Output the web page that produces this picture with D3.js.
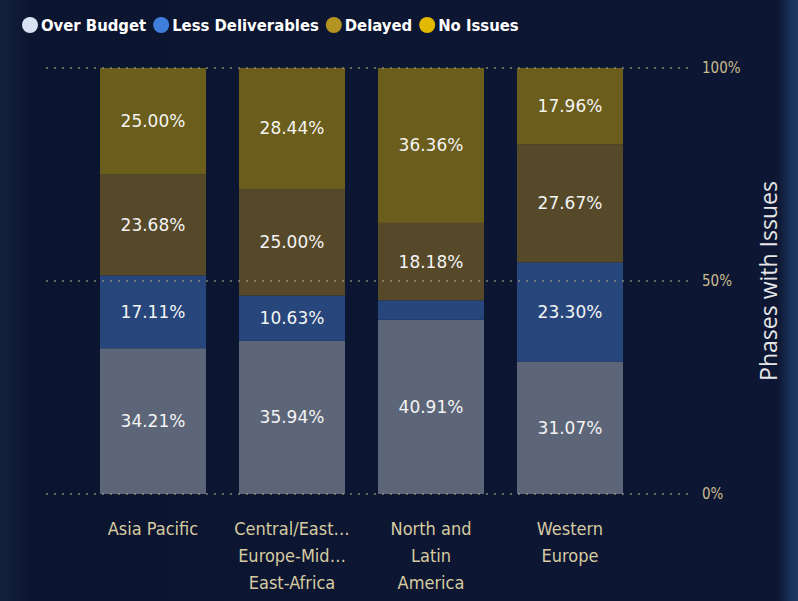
<!DOCTYPE html>
<html>
<head>
<meta charset="utf-8">
<script src="https://cdn.jsdelivr.net/npm/d3@7"></script>
<style>
    html, body { margin: 0; padding: 0; background: #0c1530; overflow: hidden; }
</style>
</head>
<body>
<div id="chart"></div>
<script>
// categories and series (percent of phases per region)
var regions = ["Asia Pacific", "Central/East Europe-Middle East-Africa", "North and Latin America", "Western Europe"];
var regionLines = [["Asia Pacific"], ["Central/East…", "Europe-Mid…", "East-Africa"], ["North and", "Latin", "America"], ["Western", "Europe"]];
var seriesNames = ["Over Budget", "Less Deliverables", "Delayed", "No Issues"];
var overBudget = [34.21, 35.94, 40.91, 31.07];
var lessDeliverables = [17.11, 10.63, 4.55, 23.30];
var delayed = [23.68, 25.00, 18.18, 27.67];
var noIssues = [25.00, 28.44, 36.36, 17.96];
var yTicks = [0, 50, 100];

var width = 798, height = 601;
var legendColor = ["#d8e2f2", "#3f7fdb", "#b39420", "#e3b800"];
var barColor = ["#5d6679", "#27467b", "#56492a", "#6b5d1b"];

var table = regions.map(function (r, i) {
    return {
        region: r,
        "Over Budget": overBudget[i],
        "Less Deliverables": lessDeliverables[i],
        "Delayed": delayed[i],
        "No Issues": noIssues[i]
    };
});

var svg = d3.select("#chart")
    .append("svg")
    .attr("width", width)
    .attr("height", height);

// background
var defs = svg.append("defs");
var bg = defs.append("linearGradient").attr("id", "bg").attr("x1", "0").attr("x2", "1");
bg.append("stop").attr("offset", "0").attr("stop-color", "#13203c");
bg.append("stop").attr("offset", "0.04").attr("stop-color", "#0c1530");
bg.append("stop").attr("offset", "0.975").attr("stop-color", "#0d1733");
bg.append("stop").attr("offset", "0.99").attr("stop-color", "#1a3158");
bg.append("stop").attr("offset", "1").attr("stop-color", "#1f3a63");
svg.append("rect").attr("width", width).attr("height", height).attr("fill", "url(#bg)");

var x = d3.scaleBand()
    .domain(regions)
    .range([83.5, 639.5])
    .paddingInner(0.2374)
    .paddingOuter(0.1187);

var y = d3.scaleLinear()
    .domain([0, 100])
    .range([494, 68]);

var stack = d3.stack().keys(seriesNames);
var layers = stack(table);

var layer = svg.selectAll(".layer")
    .data(layers)
    .enter()
    .append("g")
    .attr("class", "layer")
    .attr("fill", function (d, i) { return barColor[i]; });

layer.selectAll("rect")
    .data(function (d) { return d; })
    .enter()
    .append("rect")
    .attr("x", function (d) { return x(d.data.region); })
    .attr("width", x.bandwidth())
    .attr("y", function (d) { return y(d[1]); })
    .attr("height", function (d) { return y(d[0]) - y(d[1]); });

// gridlines (dotted, on top of the bars)
svg.append("g")
    .selectAll("line")
    .data(yTicks)
    .enter()
    .append("line")
    .attr("x1", 46)
    .attr("x2", 690)
    .attr("y1", function (d) { return y(d); })
    .attr("y2", function (d) { return y(d); })
    .attr("stroke", "#a8a488")
    .attr("stroke-opacity", 0.75)
    .attr("stroke-width", 1.5)
    .attr("stroke-dasharray", "2 6");

// data labels
layer.selectAll("text")
    .data(function (d) { return d; })
    .enter()
    .filter(function (d) { return d[1] - d[0] >= 6; })
    .append("text")
    .attr("x", function (d) { return x(d.data.region) + x.bandwidth() / 2; })
    .attr("y", function (d) { return (y(d[0]) + y(d[1])) / 2; })
    .attr("dy", "0.35em")
    .attr("text-anchor", "middle")
    .attr("font-family", "'DejaVu Sans', sans-serif")
    .attr("font-size", 17)
    .attr("fill", "#f4f4f4")
    .text(function (d) { return (d[1] - d[0]).toFixed(2) + "%"; });

// y axis labels on the right
svg.append("g")
    .selectAll("text")
    .data(yTicks)
    .enter()
    .append("text")
    .attr("x", 702)
    .attr("y", function (d) { return y(d); })
    .attr("dy", "0.35em")
    .attr("font-family", "'DejaVu Sans Condensed', 'DejaVu Sans', sans-serif")
    .attr("font-size", 15)
    .attr("fill", "#c9bc8e")
    .text(function (d) { return d + "%"; });

svg.append("text")
    .attr("transform", "translate(777,281) rotate(-90)")
    .attr("text-anchor", "middle")
    .attr("font-family", "'Open Sans', 'DejaVu Sans', sans-serif")
    .attr("font-size", 23)
    .attr("fill", "#e6e6e6")
    .text("Phases with Issues");

// category labels
var cat = svg.append("g")
    .selectAll("text")
    .data(regions)
    .enter()
    .append("text")
    .attr("text-anchor", "middle")
    .attr("font-family", "'DejaVu Sans Condensed', 'DejaVu Sans', sans-serif")
    .attr("font-size", 18)
    .attr("fill", "#d6cba2");

cat.selectAll("tspan")
    .data(function (d, i) { return regionLines[i]; })
    .enter()
    .append("tspan")
    .attr("x", function () {
        var r = d3.select(this.parentNode).datum();
        return x(r) + x.bandwidth() / 2;
    })
    .attr("y", function (d, j) { return 535 + j * 27; })
    .text(function (d) { return d; });

// legend
var legend = svg.append("g").attr("class", "legend");
var lx = 22;
seriesNames.forEach(function (name, i) {
    legend.append("circle")
        .attr("cx", lx + 8)
        .attr("cy", 25)
        .attr("r", 8)
        .attr("fill", legendColor[i]);
    var t = legend.append("text")
        .attr("x", lx + 19)
        .attr("y", 25)
        .attr("dy", "0.35em")
        .attr("font-family", "'DejaVu Sans Condensed', 'DejaVu Sans', sans-serif")
        .attr("font-weight", "bold")
        .attr("font-size", 16.5)
        .attr("fill", "#ffffff")
        .text(name);
    lx = lx + 19 + t.node().getComputedTextLength() + 7;
});
</script>
</body>
</html>
